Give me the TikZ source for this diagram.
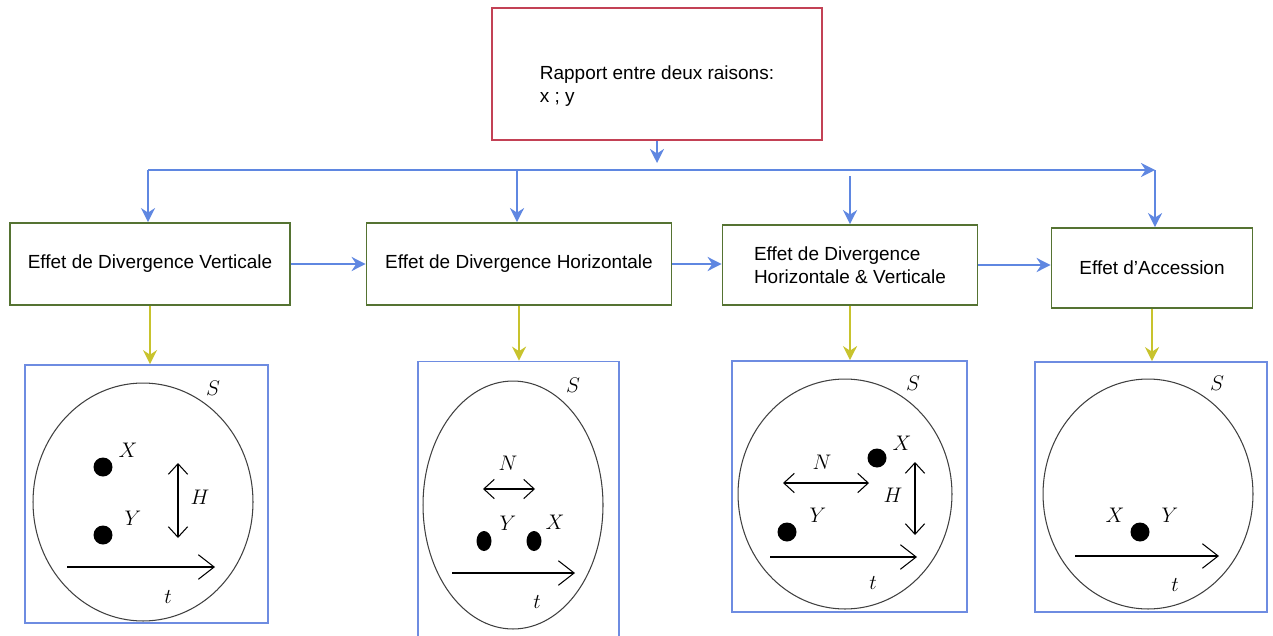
\documentclass[tikz,border=0pt]{standalone}
\usepackage{fontspec}
\setmainfont{Liberation Sans}
\usepackage{tikz}
\usetikzlibrary{arrows.meta, positioning, shapes.geometric}
\definecolor{linkblue}{RGB}{95, 135, 225}
\definecolor{framblue}{RGB}{110, 140, 225}
\definecolor{dropyellow}{RGB}{200, 195, 45}
\definecolor{effgreen}{RGB}{85, 115, 50}
\definecolor{rootred}{RGB}{195, 65, 85}

\begin{document}
\begin{tikzpicture}[
    x=0.02cm, y=-0.02cm,
    font=\fontsize{10.8}{13}\selectfont,
    root/.style={rectangle, draw=rootred, line width=1pt, align=left},
    effect/.style={rectangle, draw=effgreen, line width=1pt, minimum height=1.64cm},
    frame/.style={rectangle, draw=framblue, line width=1pt},
    link/.style={draw=linkblue, line width=1.3pt, -{Stealth[length=8pt, width=8pt]}},
    drop/.style={draw=dropyellow, line width=1.1pt, -{Stealth[length=8pt, width=8pt]}},
    space/.style={draw=black!75, line width=0.6pt},
    timearrow/.style={line width=0.6pt, -{Straight Barb[length=9pt, width=14pt]}},
    gaparrow/.style={line width=0.6pt, {Straight Barb[length=6pt, width=11pt]}-{Straight Barb[length=6pt, width=11pt]}},
    dot/.style={circle, fill=black, inner sep=0pt, minimum size=0.38cm},
    lbl/.style={inner sep=1pt, font=\fontsize{13}{15}\selectfont}
]
    \useasboundingbox (0,0) rectangle (1273,635);

    % Root and effects
    \node[root, minimum width=6.6cm, minimum height=2.64cm] (rapport) at (657,74) {\rule{0pt}{0.77cm}Rapport entre deux raisons:\\x ; y};
    \node[effect, minimum width=5.6cm] (vert) at (150,264) {Effet de Divergence Verticale};
    \node[effect, minimum width=6.1cm] (horiz) at (519,264) {Effet de Divergence Horizontale};
    \node[effect, minimum width=5.1cm, minimum height=1.6cm, align=left] (both) at (850,265) {Effet de Divergence\\Horizontale \& Verticale};
    \node[effect, minimum width=4.02cm, minimum height=1.6cm] (access) at (1152,268) {Effet d'Accession};

    % Bus line
    \coordinate (busin) at (657,163);
    \coordinate (busL) at (148,170);
    \coordinate (busM) at (517,170);
    \coordinate (busR) at (1155,170);
    \coordinate (busB) at (850,176);
    \draw[link] (rapport.south) -- (busin);
    \draw[link] (busL) -- (busR);
    \draw[link] (busL) -- (busL |- vert.north);
    \draw[link] (busM) -- (busM |- horiz.north);
    \draw[link] (busB) -- (busB |- both.north);
    \draw[link] (busR) -- (busR |- access.north);

    % Chain between effects
    \draw[link] (vert.east) -- (vert.east -| horiz.west);
    \draw[link] (horiz.east) -- (horiz.east -| both.west);
    \draw[link] (both.east) -- (both.east -| access.west);

    % Frames
    \node[frame, minimum width=4.86cm, minimum height=5.16cm] (fr1) at (146.5,494) {};
    \node[frame, minimum width=4.02cm, minimum height=5.7cm] (fr2) at (518.5,504) {};
    \node[frame, minimum width=4.7cm, minimum height=5.02cm] (fr3) at (849.5,486.5) {};
    \node[frame, minimum width=4.64cm, minimum height=5.0cm] (fr4) at (1151,487) {};

    \draw[drop] (vert.south) -- (vert.south |- fr1.north);
    \draw[drop] (horiz.south) -- (horiz.south |- fr2.north);
    \draw[drop] (both.south) -- (both.south |- fr3.north);
    \draw[drop] (access.south) -- (access.south |- fr4.north);

    % Panel 1: vertical divergence
    \draw[space] (143,502) ellipse [x radius=2.2cm, y radius=2.38cm];
    \node[lbl] (s1) at (213,388) {$S$};
    \node[dot] (x1) at (103,467) {};
    \node[lbl] (x1l) at (128,450) {$X$};
    \node[dot] (y1) at (103,535) {};
    \node[lbl] (y1l) at (133,518) {$Y$};
    \draw[gaparrow] (178,463) -- (178,538);
    \node[lbl] (h1) at (200,497) {$H$};
    \draw[timearrow] (67,567) -- (215,567);
    \node[lbl] (t1) at (168,597) {$t$};

    % Panel 2: horizontal divergence
    \draw[space] (513,505) ellipse [x radius=1.8cm, y radius=2.48cm];
    \node[lbl] (s2) at (573,385) {$S$};
    \node[lbl] (n2) at (508,463) {$N$};
    \draw[gaparrow] (483,489) -- (535,489);
    \node[lbl] (y2l) at (508,523) {$Y$};
    \node[lbl] (x2l) at (555,522) {$X$};
    \node[dot, ellipse, minimum width=0.3cm, minimum height=0.4cm] (y2) at (484,541) {};
    \node[dot, ellipse, minimum width=0.3cm, minimum height=0.4cm] (x2) at (534,541) {};
    \draw[timearrow] (452,573) -- (575,573);
    \node[lbl] (t2) at (537,602) {$t$};

    % Panel 3: both divergences
    \draw[space] (845,494) ellipse [x radius=2.14cm, y radius=2.3cm];
    \node[lbl] (s3) at (913,383) {$S$};
    \node[dot] (x3) at (877,458) {};
    \node[lbl] (x3l) at (902,443) {$X$};
    \node[lbl] (n3) at (822,462) {$N$};
    \draw[gaparrow] (783,483) -- (869,483);
    \draw[gaparrow] (915,462) -- (915,535);
    \node[lbl] (h3) at (893,495) {$H$};
    \node[dot] (y3) at (787,532) {};
    \node[lbl] (y3l) at (818,515) {$Y$};
    \draw[timearrow] (770,557) -- (917,557);
    \node[lbl] (t3) at (873,583) {$t$};

    % Panel 4: accession
    \draw[space] (1148,494) ellipse [x radius=2.1cm, y radius=2.3cm];
    \node[lbl] (s4) at (1217,383) {$S$};
    \node[lbl] (x4l) at (1115,515) {$X$};
    \node[lbl] (y4l) at (1170,515) {$Y$};
    \node[dot] (xy4) at (1140,532) {};
    \draw[timearrow] (1075,556) -- (1219,556);
    \node[lbl] (t4) at (1175,585) {$t$};

\end{tikzpicture}
\end{document}
